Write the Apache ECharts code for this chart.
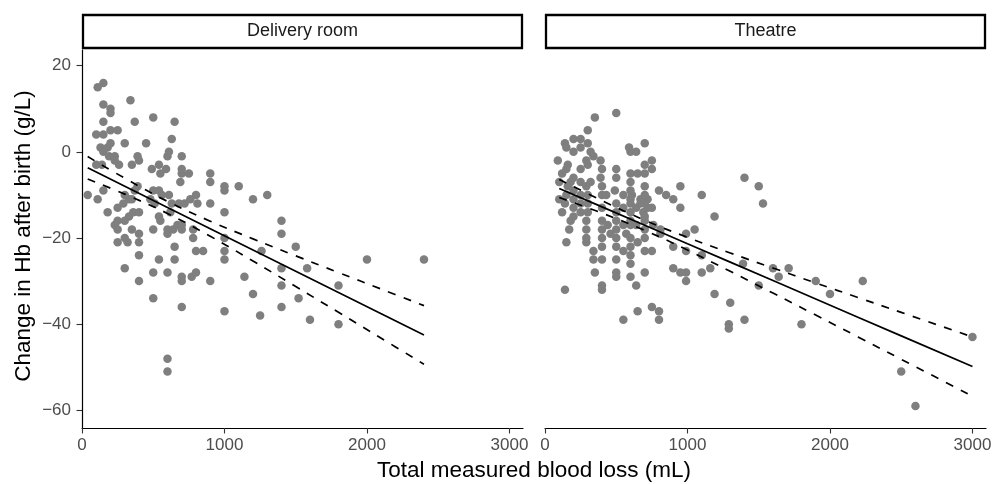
<!DOCTYPE html>
<html>
<head>
<meta charset="utf-8">
<script src="https://cdn.jsdelivr.net/npm/echarts@6.0.0/dist/echarts.min.js"></script>
<style>
  html, body { margin: 0; padding: 0; background: #fff; }
  #chart { width: 995px; height: 484px; }
</style>
</head>
<body>
<div id="chart"></div>
<script>
// facet titles
const facets = ["Delivery room", "Theatre"];
const xTicks = [0, 1000, 2000, 3000];
const yTicks = [-60, -40, -20, 0, 20];

// [blood loss mL, change in Hb g/L]
const deliveryPoints = [
  [110,15],[150,16],[340,12],[150,11],[200,10],[200,9],[500,8],[150,7],[370,7],[650,7],
  [100,4],[150,4],[200,5],[250,5],[300,2],[450,2],[630,3],
  [130,1],[180,1],[200,2],[150,0],[190,-1],[230,-1],[600,-1],[610,0],[700,-1],
  [100,-3],[140,-3],[230,-2],[260,-3],[350,-3],[390,-1],[400,-2],
  [490,-4],[540,-3],[590,-4],[550,-5],[700,-4],[700,-5],[750,-5],[690,-7],[900,-5],[900,-7],
  [1000,-8],[1000,-9],[1100,-8],[40,-10],[110,-11],[150,-9],[180,-14],
  [250,-13],[290,-12],[330,-11],[390,-8],[500,-9],[540,-9],[300,-10],[350,-11],[370,-9],
  [480,-11],[510,-12],[560,-10],[610,-10],[630,-12],[680,-12],[720,-12],[760,-11],[800,-10],[810,-12],[900,-12],
  [1000,-14],[1200,-11],
  [250,-16],[330,-15],[360,-14],[400,-14],[540,-15],[620,-14],
  [230,-17],[350,-18],[500,-18],[600,-18],[670,-17],[700,-17],[780,-18],
  [300,-16],[250,-18],[400,-19],[550,-16],[600,-19],[640,-18],[700,-18],
  [250,-21],[300,-20],[320,-21],[400,-21],[780,-20],[1000,-20],[650,-22],[800,-23],[850,-23],[1000,-23],
  [400,-24],[540,-25],[650,-25],[1000,-25],[300,-27],[500,-28],[600,-28],[700,-29],[700,-30],[770,-29],
  [800,-28],[900,-30],[400,-30],[1140,-29],[1200,-33],[500,-34],[700,-36],[1000,-37],[1250,-38],
  [600,-48],[600,-51],[1260,-23],
  [1300,-10],[1400,-16],[1400,-19],[1500,-22],[1400,-27],[1580,-27],[2000,-25],[2400,-25],
  [1400,-31],[1520,-34],[1800,-31],[1400,-36],[1600,-39],[1800,-40]
];

const theatrePoints = [
  [350,8],[500,9],[300,5],[140,2],[200,3],[250,1],[300,2],[320,0],[340,-1],[590,1],[600,0],[640,0],[700,2],
  [90,-2],[150,-4],[290,-2],[300,-3],[390,-2],[400,-4],[390,-6],[500,-4],[500,-6],
  [600,-5],[600,-7],[650,-5],[700,-5],[750,-4],[700,-3],[750,-2],
  [200,-6],[180,-7],[250,-7],[290,-8],[320,-7],[100,-7],[160,-8],[100,-11],
  [700,-8],[800,-9],[850,-10],[900,-11],[950,-8],[1100,-10],[950,-13],
  [1400,-6],[1500,-8],[1530,-12],
  [430,-10],[490,-9],[550,-10],[610,-10],[670,-11],[720,-11],
  [140,-12],[200,-13],[250,-14],[200,-15],
  [290,-16],[290,-18],[290,-20],[290,-21],
  [400,-13],[400,-16],[400,-18],
  [440,-17],[460,-19],[500,-18],[550,-17],[570,-19],
  [550,-13],[600,-14],[640,-13],[690,-14],[750,-13],[670,-12],[720,-13],
  [600,-17],[640,-17],[700,-18],[700,-20],[650,-21],[600,-22],
  [760,-17],[810,-18],[810,-19],
  [900,-22],[990,-19],[1050,-18],[1100,-24],[990,-23],[1190,-15],
  [1390,-26],[1500,-31],[1160,-27],
  [340,-23],[400,-25],[340,-25],
  [500,-25],[600,-26],[600,-24],[550,-23],[500,-22],
  [700,-23],[750,-23],
  [350,-28],[500,-28],[500,-29],[600,-29],[700,-28],
  [140,-32],[400,-31],[400,-32],[640,-31],
  [900,-27],[950,-28],[990,-28],[990,-30],[1100,-28],
  [1190,-33],[1300,-35],[1290,-40],[1290,-41],[1400,-39],
  [550,-39],[650,-37],[750,-36],[800,-37],[800,-39],
  [170,-18],[150,-21],
  [300,-10],[300,-12],[300,-14],[400,-8],[400,-10],[400,-20],[400,-22],
  [500,-12],[500,-14],[500,-16],[500,-20],[600,-9],[600,-11],[600,-12],[600,-16],[600,-20],
  [700,-10],[700,-12],[700,-15],[700,-16],
  [120,-5],[150,-10],[200,-9],[200,-11],[250,-10],[250,-12],[180,-16],[120,-14],[160,-3],[250,-4],
  [200,0],[150,1],[250,3],
  [1600,-27],[1640,-29],[1710,-27],[1900,-30],[2000,-33],[2230,-30],[1800,-40],
  [3000,-43],[2500,-51],[2600,-59]
];

// fitted line and 95% CI
const deliveryFitX = [40, 300, 600, 900, 1200, 1500, 1800, 2100, 2400];
const deliveryFit = [-3.7, -7.97, -12.9, -17.84, -22.77, -27.7, -32.63, -37.56, -42.5];
const deliveryUpper = [-1.1, -6.12, -11.5, -16.1, -20.2, -24.14, -28.01, -31.86, -35.7];
const deliveryLower = [-6.3, -9.82, -14.3, -19.58, -25.34, -31.26, -37.25, -43.26, -49.3];

const theatreFitX = [100, 400, 700, 1000, 1300, 1600, 1900, 2200, 2500, 3000];
const theatreFit = [-8.5, -12.77, -17.05, -21.33, -25.6, -29.88, -34.16, -38.43, -42.71, -49.84];
const theatreUpper = [-6.4, -11.32, -15.88, -19.86, -23.47, -26.97, -30.43, -33.85, -37.27, -42.96];
const theatreLower = [-10.6, -14.22, -18.22, -22.8, -27.73, -32.79, -37.89, -43.01, -48.15, -56.72];

const font = "'Liberation Sans', Arial, Helvetica, sans-serif";
const panelTop = 50, panelH = 378, panelW = 441;
const panelLeft = [82, 545];

function minus(v) {
  return v < 0 ? "\u2212" + Math.abs(v) : String(v);
}
function zip(xs, ys) {
  return xs.map((x, i) => [x, ys[i]]);
}

let myChart = echarts.init(document.getElementById("chart"), null, { renderer: "canvas" });

let grids = panelLeft.map(l => ({ left: l, top: panelTop, width: panelW, height: panelH }));

let xAxes = panelLeft.map((l, i) => ({
  type: "value",
  gridIndex: i,
  min: 0,
  max: 3095,
  axisLine: { show: true, onZero: false, lineStyle: { color: "#000", width: 1.2 } },
  axisTick: { show: true, length: 5.5, customValues: xTicks, lineStyle: { color: "#333", width: 1.1 } },
  axisLabel: { customValues: xTicks, margin: 9, color: "#4d4d4d", fontSize: 17, fontFamily: font, formatter: minus },
  splitLine: { show: false }
}));

let yAxes = panelLeft.map((l, i) => ({
  type: "value",
  gridIndex: i,
  min: -64.1,
  max: 23.64,
  axisLine: { show: i === 0, onZero: false, lineStyle: { color: "#000", width: 1.2 } },
  axisTick: { show: i === 0, length: 5.5, customValues: yTicks, lineStyle: { color: "#333", width: 1.1 } },
  axisLabel: { show: i === 0, customValues: yTicks, margin: 11, color: "#4d4d4d", fontSize: 17, fontFamily: font, formatter: minus },
  splitLine: { show: false }
}));

function scatter(data, i) {
  return {
    type: "scatter",
    xAxisIndex: i,
    yAxisIndex: i,
    data: data,
    symbol: "circle",
    symbolSize: 8.5,
    itemStyle: { color: "#7f7f7f", opacity: 1 },
    silent: true,
    z: 2
  };
}
function line(xs, ys, i, dashed) {
  return {
    type: "line",
    xAxisIndex: i,
    yAxisIndex: i,
    data: zip(xs, ys),
    showSymbol: false,
    symbol: "none",
    smooth: dashed ? 0.4 : false,
    lineStyle: { color: "#000", width: 1.7, type: dashed ? [8, 8.5] : "solid" },
    silent: true,
    z: 3
  };
}

let strips = [];
facets.forEach((name, i) => {
  strips.push({
    type: "rect",
    shape: { x: panelLeft[i] + 1, y: 15, width: panelW - 2, height: 33 },
    style: { fill: "#fff", stroke: "#000", lineWidth: 2.3 }
  });
  strips.push({
    type: "text",
    x: panelLeft[i] + panelW / 2,
    y: 31.5,
    style: { text: name, fill: "#1a1a1a", font: "18px " + font, textAlign: "center", textVerticalAlign: "middle" }
  });
});

let option = {
  animation: false,
  backgroundColor: "#fff",
  grid: grids,
  xAxis: xAxes,
  yAxis: yAxes,
  graphic: strips.concat([
    {
      type: "text",
      x: 534,
      y: 471,
      style: { text: "Total measured blood loss (mL)", fill: "#000", font: "22.5px " + font, textAlign: "center", textVerticalAlign: "middle" }
    },
    {
      type: "text",
      x: 24,
      y: 236,
      rotation: Math.PI / 2,
      style: { text: "Change in Hb after birth (g/L)", fill: "#000", font: "22.5px " + font, textAlign: "center", textVerticalAlign: "middle" }
    }
  ]),
  series: [
    scatter(deliveryPoints, 0),
    scatter(theatrePoints, 1),
    line(deliveryFitX, deliveryFit, 0, false),
    line(deliveryFitX, deliveryUpper, 0, true),
    line(deliveryFitX, deliveryLower, 0, true),
    line(theatreFitX, theatreFit, 1, false),
    line(theatreFitX, theatreUpper, 1, true),
    line(theatreFitX, theatreLower, 1, true)
  ]
};
myChart.setOption(option);
window.addEventListener("resize", function () {
  myChart.resize();
});
</script>
</body>
</html>
